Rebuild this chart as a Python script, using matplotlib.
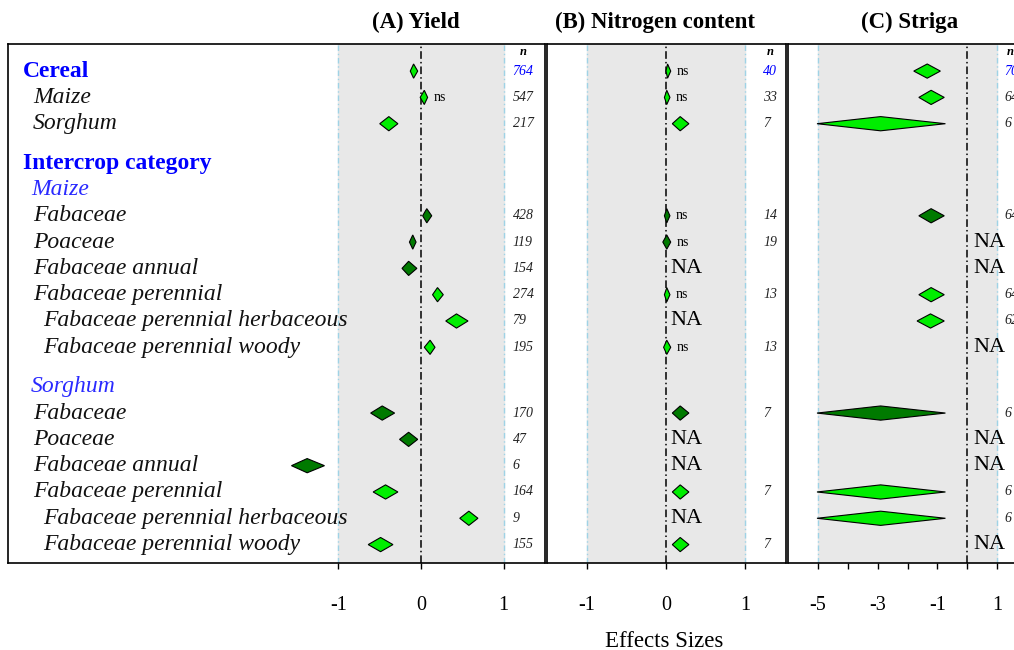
import matplotlib.pyplot as plt
from matplotlib.patches import Polygon
from matplotlib.transforms import blended_transform_factory, offset_copy

plt.rcParams["font.family"] = ["Liberation Serif", "DejaVu Serif"]

# row layout: label, vertical position, style
row_labels = ["Cereal", "Maize", "Sorghum", "Intercrop category", "Maize",
              "Fabaceae", "Poaceae", "Fabaceae annual", "Fabaceae perennial",
              "Fabaceae perennial herbaceous", "Fabaceae perennial woody",
              "Sorghum", "Fabaceae", "Poaceae", "Fabaceae annual",
              "Fabaceae perennial", "Fabaceae perennial herbaceous",
              "Fabaceae perennial woody"]
row_pos = [0, 1, 2, 3.5, 4.5, 5.5, 6.5, 7.5, 8.5, 9.5, 10.5,
           12, 13, 14, 15, 16, 17, 18]
row_kind = ["group", "item", "item", "group", "sub", "item", "item", "item",
            "item", "item2", "item2", "sub", "item", "item", "item", "item",
            "item2", "item2"]

# rows that carry estimates
data_rows = [0, 1, 2, 5.5, 6.5, 7.5, 8.5, 9.5, 10.5, 13, 14, 15, 16, 17, 18]
dark = [False, False, False, True, True, True, False, False, False,
        True, True, True, False, False, False]

# (A) Yield
yield_est = [-0.09, 0.04, -0.39, 0.07, -0.10, -0.15, 0.20, 0.43, 0.11,
             -0.47, -0.15, -1.38, -0.43, 0.58, -0.49]
yield_lo = [-0.13, -0.01, -0.50, 0.02, -0.14, -0.23, 0.14, 0.30, 0.04,
            -0.61, -0.26, -1.57, -0.58, 0.47, -0.64]
yield_hi = [-0.04, 0.08, -0.28, 0.13, -0.06, -0.05, 0.27, 0.57, 0.17,
            -0.32, -0.04, -1.17, -0.28, 0.69, -0.34]
yield_n = ["764", "547", "217", "428", "119", "154", "274", "79", "195",
           "170", "47", "6", "164", "9", "155"]
yield_ns = [False, True] + [False] * 13

# (B) Nitrogen content
nitro_est = [0.02, 0.01, 0.18, 0.01, 0.01, None, 0.01, None, 0.01,
             0.18, None, None, 0.18, None, 0.18]
nitro_lo = [0.00, -0.02, 0.08, -0.02, -0.04, None, -0.02, None, -0.03,
            0.08, None, None, 0.08, None, 0.08]
nitro_hi = [0.06, 0.05, 0.29, 0.05, 0.06, None, 0.05, None, 0.06,
            0.29, None, None, 0.29, None, 0.29]
nitro_n = ["40", "33", "7", "14", "19", "", "13", "", "13",
           "7", "", "", "7", "", "7"]
nitro_ns = [True, True, False, True, True, False, True, False, True,
            False, False, False, False, False, False]

# (C) Striga
striga_est = [-1.34, -1.21, -2.9, -1.21, None, None, -1.21, -1.23, None,
              -2.9, None, None, -2.9, -2.9, None]
striga_lo = [-1.79, -1.62, -5.03, -1.62, None, None, -1.62, -1.68, None,
             -5.03, None, None, -5.03, -5.03, None]
striga_hi = [-0.90, -0.77, -0.73, -0.77, None, None, -0.77, -0.77, None,
             -0.73, None, None, -0.73, -0.73, None]
striga_n = ["70", "64", "6", "64", "", "", "64", "62", "",
            "6", "", "", "6", "6", ""]
striga_ns = [False] * 15

BRIGHT = "#00ee00"
DARK = "#007a00"
BLUE = "#0000ff"
LIGHTBLUE = "#9fd3e6"
GREY = "#e8e8e8"

W, H = 1014, 650
fig = plt.figure(figsize=(W / 100, H / 100), dpi=100)


def px_axes(x0, x1, y0=44, y1=563):
    return fig.add_axes([x0 / W, 1 - y1 / H, (x1 - x0) / W, (y1 - y0) / H])


def draw_panel(ax, xlim, shade, est, lo, hi, nvals, ns, n_x, na_x):
    ax.set_xlim(*xlim)
    ax.set_ylim(18.7, -1.03)
    ax.axvspan(shade[0], shade[1], color=GREY, zorder=0)
    for s in shade:
        ax.axvline(s, color=LIGHTBLUE, lw=1, ls=(0, (4, 2, 1, 2)), zorder=1)
    ax.axvline(0, color="black", lw=1.1, ls=(0, (5, 2, 1, 2)), zorder=2)
    ns_tr = offset_copy(ax.transData, fig=fig, x=6, y=0, units="dots")
    h = 0.27
    for i, y in enumerate(data_rows):
        if est[i] is None:
            ax.text(na_x, y, "NA", fontsize=16, ha="left", va="center", zorder=4)
            continue
        col = DARK if dark[i] else BRIGHT
        diamond = Polygon([(lo[i], y), (est[i], y - h), (hi[i], y), (est[i], y + h)],
                          closed=True, facecolor=col, edgecolor="black",
                          lw=0.8, zorder=3)
        ax.add_patch(diamond)
        if ns[i]:
            ax.text(hi[i], y, "ns", transform=ns_tr, fontsize=10,
                    ha="left", va="center", zorder=4)
        ax.text(n_x, y, nvals[i], fontsize=10, style="italic", ha="left",
                va="center", color=BLUE if i == 0 else "#222222")
    ax.text(n_x + 0.04 * (xlim[1] - xlim[0]) / 3.0, -0.72, "n", fontsize=9,
            style="italic", weight="bold", ha="left", va="center")
    ax.set_yticks([])
    ax.tick_params(axis="x", direction="out", length=4, width=1, pad=20,
                   labelsize=14.5)
    for sp in ax.spines.values():
        sp.set_linewidth(1.2)


# (A) Yield panel shares its box with the row labels
axA = px_axes(8, 545)
draw_panel(axA, (-5.006, 1.503), (-1, 1), yield_est, yield_lo, yield_hi,
           yield_n, yield_ns, n_x=1.11, na_x=0.05)
axA.set_xticks([-1, 0, 1])
axA.set_xticklabels(["-1", "0", "1"])

lbl = blended_transform_factory(axA.transAxes, axA.transData)
indent = {"group": 0.028, "item": 0.0466, "item2": 0.065, "sub": 0.043}
for text, y, kind in zip(row_labels, row_pos, row_kind):
    if kind == "group":
        axA.text(indent[kind], y, text, transform=lbl, fontsize=17,
                 weight="bold", color=BLUE, ha="left", va="center")
    elif kind == "sub":
        axA.text(indent[kind], y, text, transform=lbl, fontsize=17,
                 style="italic", color="#2a2aff", ha="left", va="center")
    else:
        axA.text(indent[kind], y, text, transform=lbl, fontsize=17,
                 style="italic", color="#111111", ha="left", va="center")

# (B) Nitrogen content
axB = px_axes(547, 786)
draw_panel(axB, (-1.506, 1.519), (-1, 1), nitro_est, nitro_lo, nitro_hi,
           nitro_n, nitro_ns, n_x=1.23, na_x=0.05)
axB.set_xticks([-1, 0, 1])
axB.set_xticklabels(["-1", "0", "1"])

# (C) Striga, running past the right edge
axC = px_axes(788, 1027)
draw_panel(axC, (-6, 2), (-5, 1), striga_est, striga_lo, striga_hi,
           striga_n, striga_ns, n_x=1.23, na_x=0.2)
axC.set_xticks([-5, -4, -3, -2, -1, 0, 1])
axC.set_xticklabels(["-5", "", "-3", "", "-1", "", "1"])

fig.text(416 / W, 1 - 22 / H, "(A) Yield", fontsize=16.5, weight="bold",
         ha="center", va="center")
fig.text(655 / W, 1 - 22 / H, "(B) Nitrogen content", fontsize=16.5,
         weight="bold", ha="center", va="center")
fig.text(910 / W, 1 - 22 / H, "(C) Striga", fontsize=16.5, weight="bold",
         ha="center", va="center")
fig.text(664 / W, 3 / H, "Effects Sizes", fontsize=16.5, ha="center",
         va="baseline")

fig.savefig("out.png", dpi=100)
